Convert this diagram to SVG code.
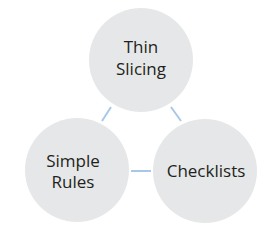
<svg xmlns="http://www.w3.org/2000/svg" width="280" height="234" viewBox="0 0 280 234">
<style>
.node circle{fill:#e6e7e8}
.node text{font-family:"Open Sans","Liberation Sans",sans-serif;font-size:17px;fill:#231f20;text-anchor:middle}
#connectors line{stroke:#a7c8e8;stroke-width:2}
</style>
<rect width="280" height="234" fill="#fff"/>
<g id="connectors">
<line x1="111" y1="107" x2="102" y2="121"/>
<line x1="171" y1="107" x2="181" y2="121"/>
<line x1="131" y1="171" x2="151" y2="171"/>
</g>
<g id="thin-slicing" class="node">
<circle cx="141" cy="60" r="52"/>
<text x="141" y="53">Thin</text>
<text x="141" y="75">Slicing</text>
</g>
<g id="simple-rules" class="node">
<circle cx="77" cy="170" r="52"/>
<text x="73" y="167">Simple</text>
<text x="73" y="188">Rules</text>
</g>
<g id="checklists" class="node">
<circle cx="205" cy="171" r="52"/>
<text x="206" y="177">Checklists</text>
</g>
</svg>
